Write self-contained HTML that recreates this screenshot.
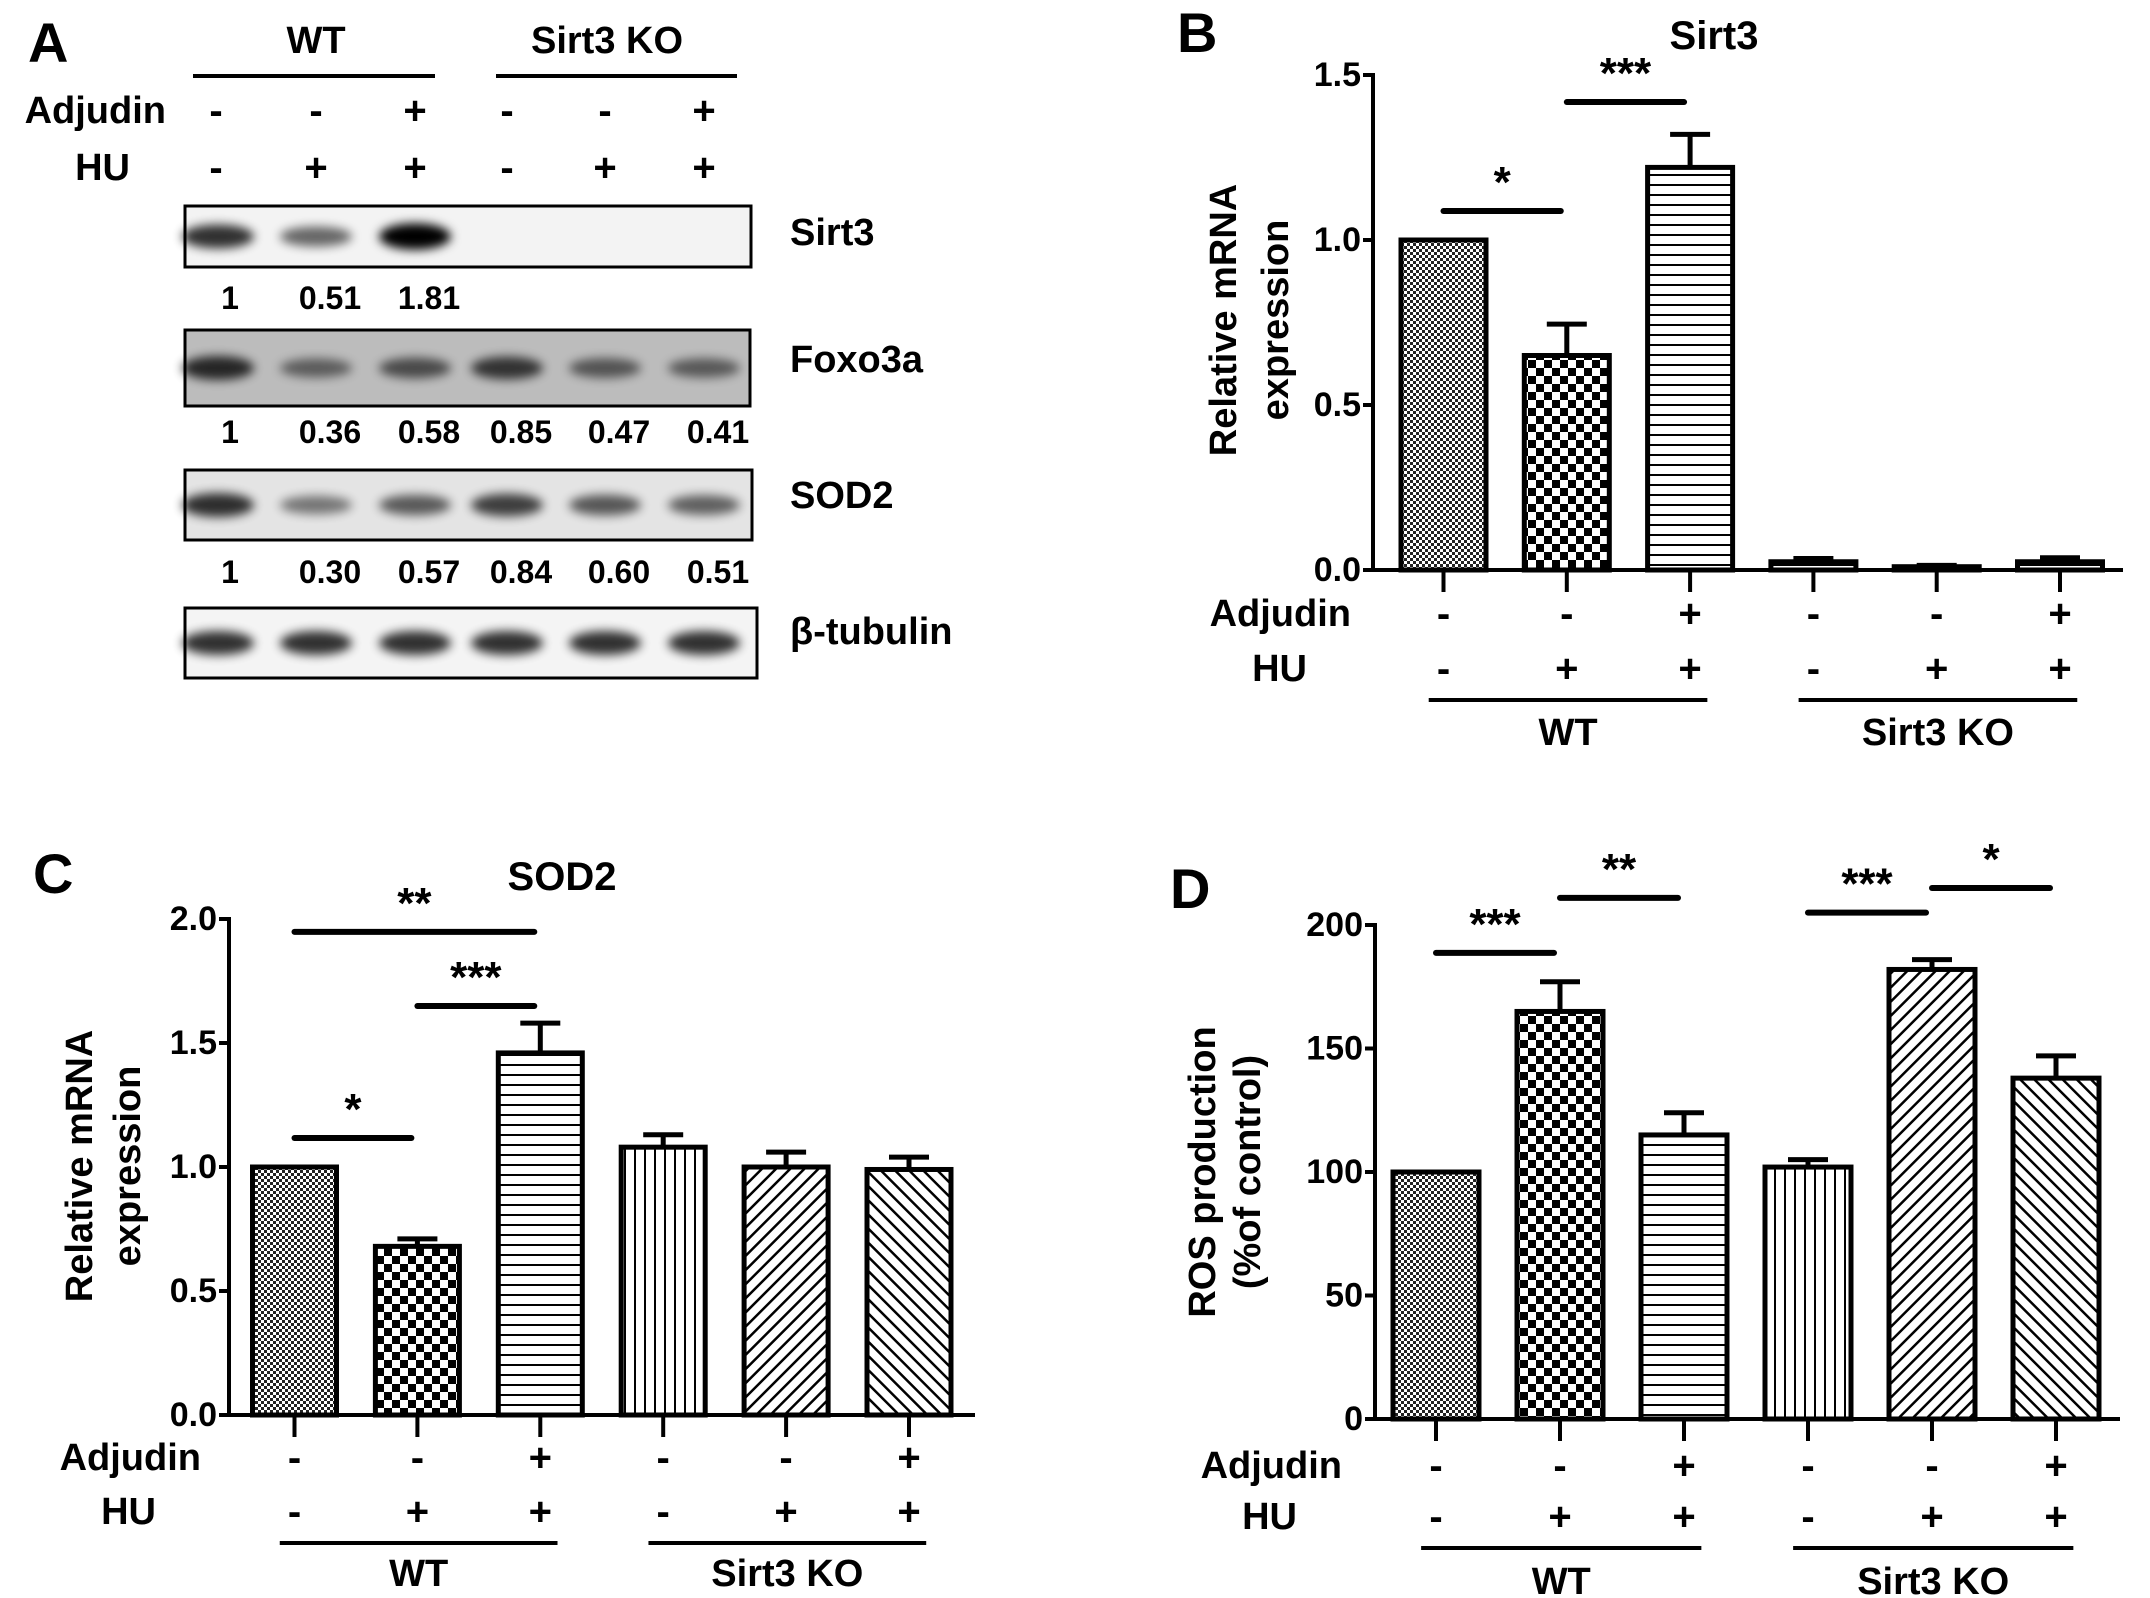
<!DOCTYPE html>
<html><head><meta charset="utf-8"><style>
html,body{margin:0;padding:0;background:#fff}
svg{display:block;font-family:"Liberation Sans",Arial,sans-serif;font-weight:bold}
</style></head><body>
<svg id="fig" width="2150" height="1598" viewBox="0 0 2150 1598" xmlns="http://www.w3.org/2000/svg">
<defs>
<filter id="blur" x="-20%" y="-50%" width="140%" height="200%"><feGaussianBlur stdDeviation="5"/></filter>
<pattern id="p0" width="6" height="6" patternUnits="userSpaceOnUse"><rect width="6" height="6" fill="#fff"/><rect width="3" height="3" fill="#222"/><rect x="3" y="3" width="3" height="3" fill="#222"/></pattern>
<pattern id="p1" width="16" height="16" patternUnits="userSpaceOnUse"><rect width="16" height="16" fill="#fff"/><rect width="8" height="8" fill="#000"/><rect x="8" y="8" width="8" height="8" fill="#000"/></pattern>
<pattern id="p2" width="10" height="10" patternUnits="userSpaceOnUse"><rect width="10" height="10" fill="#fff"/><rect y="4" width="10" height="2" fill="#000"/></pattern>
<pattern id="p3" width="10" height="10" patternUnits="userSpaceOnUse"><rect width="10" height="10" fill="#fff"/><rect x="4" width="2" height="10" fill="#000"/></pattern>
<pattern id="p4" width="10" height="10" patternUnits="userSpaceOnUse" patternTransform="rotate(45)"><rect width="10" height="10" fill="#fff"/><rect x="4" width="2.5" height="10" fill="#000"/></pattern>
<pattern id="p5" width="10" height="10" patternUnits="userSpaceOnUse" patternTransform="rotate(-45)"><rect width="10" height="10" fill="#fff"/><rect x="4" width="2.5" height="10" fill="#000"/></pattern>
</defs>

<!-- Panel A: western blot -->
<g id="panelA">
<text x="28" y="62" font-size="56">A</text>
<text x="316" y="41" font-size="38" text-anchor="middle" dominant-baseline="central">WT</text>
<line x1="193" y1="76" x2="435" y2="76" stroke="#000" stroke-width="4"/>
<text x="607" y="41" font-size="38" text-anchor="middle" dominant-baseline="central">Sirt3 KO</text>
<line x1="496" y1="76" x2="737" y2="76" stroke="#000" stroke-width="4"/>
<text x="166" y="111" font-size="38" text-anchor="end" dominant-baseline="central">Adjudin</text>
<text x="130" y="168" font-size="38" text-anchor="end" dominant-baseline="central">HU</text>
<g id="blotSigns"></g>
<g id="blots"></g>
</g>

<g id="panelB"></g>
<g id="panelC"></g>
<g id="panelD"></g>
</svg>
<script>
// ===== shared data =====
const treatAdjudin = ['-','-','+','-','-','+'];
const treatHU = ['-','+','+','-','+','+'];
const groupLabels = ['WT','Sirt3 KO'];

// Panel A data
const laneX = [216,316,415,507,605,704];
const sirt3Bands = [1,0.51,1.81,0,0,0];
const sirt3Nums = ['1','0.51','1.81','','',''];
const foxoBands = [1,0.36,0.58,0.85,0.47,0.41];
const foxoNums = ['1','0.36','0.58','0.85','0.47','0.41'];
const sodBands = [1,0.30,0.57,0.84,0.60,0.51];
const sodNums = ['1','0.30','0.57','0.84','0.60','0.51'];
const tubBands = [1,1,1,1,1,1];

// Panel B data
const bVals = [1.0,0.65,1.22,0.025,0.01,0.025];
const bErr = [0,0.095,0.10,0.01,0.004,0.012];
const bTicks = [0,0.5,1.0,1.5];
const bTickLabels = ['0.0','0.5','1.0','1.5'];
const bSig = [[0,1,1.088,'*'],[1,2,1.418,'***']];

// Panel C data
const cVals = [1.0,0.68,1.46,1.08,1.0,0.99];
const cErr = [0,0.03,0.12,0.05,0.06,0.05];
const cTicks = [0,0.5,1.0,1.5,2.0];
const cTickLabels = ['0.0','0.5','1.0','1.5','2.0'];
const cSig = [[0,2,1.948,'**'],[1,2,1.649,'***'],[0,1,1.117,'*']];

// Panel D data
const dVals = [100,165,115,102,182,138];
const dErr = [0,12,9,3,4,9];
const dTicks = [0,50,100,150,200];
const dTickLabels = ['0','50','100','150','200'];
const dSig = [[0,1,188.7,'***'],[1,2,211,'**'],[3,4,205,'***'],[4,5,215,'*']];

const NS='http://www.w3.org/2000/svg';
function mk(tag, attrs, parent, text){
  const e=document.createElementNS(NS,tag);
  for(const k in attrs) e.setAttribute(k,attrs[k]);
  if(text!==undefined) e.textContent=text;
  parent.appendChild(e); return e;
}

// ===== Panel A =====
(function(){
  const sg=document.getElementById('blotSigns');
  laneX.forEach((x,i)=>{
    const a=mk('text',{x:x,y:111,'font-size':40,'text-anchor':'middle','dominant-baseline':'central'},sg,treatAdjudin[i]);
    
    
    const h=mk('text',{x:x,y:168,'font-size':40,'text-anchor':'middle','dominant-baseline':'central'},sg,treatHU[i]);
    
    
  });
  const g=document.getElementById('blots');
  const blots=[
    {name:'Sirt3',y0:206,y1:267,bands:sirt3Bands,nums:sirt3Nums,numY:298,bg:'#f3f3f3',x1:751,lab:233},
    {name:'Foxo3a',y0:330,y1:406,bands:foxoBands,nums:foxoNums,numY:432,bg:'#bcbcbc',x1:750,lab:360},
    {name:'SOD2',y0:470,y1:540,bands:sodBands,nums:sodNums,numY:572,bg:'#e4e4e4',x1:752,lab:496},
    {name:'β-tubulin',y0:608,y1:678,bands:tubBands,nums:null,numY:0,bg:'#f4f4f4',x1:757,lab:632}
  ];
  blots.forEach(b=>{
    const bg=mk('g',{},g);
    
    
    mk('rect',{x:185,y:b.y0,width:b.x1-185,height:b.y1-b.y0,fill:b.bg},bg);
    const cy=(b.y0+b.y1)/2;
    b.bands.forEach((v,i)=>{
      if(v<=0) return;
      const op=Math.min(1,0.35+0.45*v);
      const band=mk('ellipse',{cx:laneX[i]+(i===0?2:0),cy:cy,rx:36,ry:8+4*Math.min(v,1.3),fill:'#000',opacity:op,filter:'url(#blur)'},bg);
      
      
    });
    mk('rect',{x:185,y:b.y0,width:b.x1-185,height:b.y1-b.y0,fill:'none',stroke:'#000','stroke-width':3},bg);
    const lt=mk('text',{x:790,y:b.lab,'font-size':38,'dominant-baseline':'central'},bg,b.name);
    
    
    if(b.nums){
      b.nums.forEach((n,i)=>{
        if(!n) return;
        const t=mk('text',{x:laneX[i]+(i===0?14:14),y:b.numY,'font-size':32,'text-anchor':'middle','dominant-baseline':'central'},bg,n);
        
        
      });
    }
  });
})();

// ===== Bar chart panels =====
function drawChart(root, cfg, vals, errs, ticks, tickLabels, sigs){
  const yOf=v=>cfg.base-(v/cfg.max)*(cfg.base-cfg.top);
  const cx=i=>cfg.c0+i*cfg.step;
  const lab=mk('text',{x:cfg.lx,y:cfg.ly,'font-size':56},root,cfg.letter);
  
  
  if(cfg.title){
    const t=mk('text',{x:cfg.tx,y:cfg.ty,'font-size':40,'text-anchor':'middle','dominant-baseline':'central'},root,cfg.title);
    
    
  }
  // y title
  const yt=mk('text',{transform:`translate(${cfg.yt1},${cfg.ytY}) rotate(-90)`,'font-size':38,'text-anchor':'middle','dominant-baseline':'central'},root,cfg.ytitle1);
  
  
  const yt2=mk('text',{transform:`translate(${cfg.yt2},${cfg.ytY}) rotate(-90)`,'font-size':38,'text-anchor':'middle','dominant-baseline':'central'},root,cfg.ytitle2);
  
  
  // bars
  vals.forEach((v,i)=>{
    const x=cx(i)-cfg.bw/2, y=yOf(v);
    const bar=mk('rect',{x:x,y:y,width:cfg.bw,height:cfg.base-y,fill:`url(#p${cfg.pats[i]})`,stroke:'#000','stroke-width':5},root);
    
    
    if(errs[i]>0){
      const ye=yOf(v+errs[i]);
      const eb=mk('path',{d:`M${cx(i)},${y} V${ye} M${cx(i)-20},${ye} H${cx(i)+20}`,stroke:'#000','stroke-width':5,fill:'none'},root);
      
      
    }
  });
  // axes
  const ya=mk('line',{x1:cfg.ax,y1:cfg.top-2,x2:cfg.ax,y2:cfg.base+2,stroke:'#000','stroke-width':4},root);
  
  
  const xa=mk('line',{x1:cfg.ax-2,y1:cfg.base,x2:cfg.xend,y2:cfg.base,stroke:'#000','stroke-width':4},root);
  
  
  ticks.forEach((t,i)=>{
    const y=yOf(t);
    mk('line',{x1:cfg.ax-10,y1:y,x2:cfg.ax,y2:y,stroke:'#000','stroke-width':4},root);
    const tl=mk('text',{x:cfg.ax-12,y:y,'font-size':34,'text-anchor':'end','dominant-baseline':'central'},root,tickLabels[i]);
    
    
  });
  vals.forEach((v,i)=>{
    mk('line',{x1:cx(i),y1:cfg.base,x2:cx(i),y2:cfg.base+22,stroke:'#000','stroke-width':4},root);
    const a=mk('text',{x:cx(i),y:cfg.adjY,'font-size':40,'text-anchor':'middle','dominant-baseline':'central'},root,treatAdjudin[i]);
    
    
    const h=mk('text',{x:cx(i),y:cfg.huY,'font-size':40,'text-anchor':'middle','dominant-baseline':'central'},root,treatHU[i]);
    
    
  });
  const al=mk('text',{x:cfg.adjR,y:cfg.adjY,'font-size':38,'text-anchor':'end','dominant-baseline':'central'},root,'Adjudin');
  
  
  const hl=mk('text',{x:cfg.huR,y:cfg.huY,'font-size':38,'text-anchor':'end','dominant-baseline':'central'},root,'HU');
  
  
  // group lines
  [[0,2],[3,5]].forEach((gr,k)=>{
    const x1=cx(gr[0])-cfg.step*0.12, x2=cx(gr[1])+cfg.step*0.14;
    mk('line',{x1:x1,y1:cfg.grpY,x2:x2,y2:cfg.grpY,stroke:'#000','stroke-width':4},root);
    const gt=mk('text',{x:(x1+x2)/2,y:cfg.grpTY,'font-size':38,'text-anchor':'middle','dominant-baseline':'central'},root,groupLabels[k]);
    
    
  });
  // significance
  sigs.forEach(s=>{
    const y=yOf(s[2]);
    const x1=cx(s[0]), x2=cx(s[1])-6;
    const l=mk('line',{x1:x1,y1:y,x2:x2,y2:y,stroke:'#000','stroke-width':6,'stroke-linecap':'round'},root);
    
    
    const st=mk('text',{x:(x1+x2)/2,y:y-14,'font-size':44,'text-anchor':'middle'},root,s[3]);
    
    
  });
}

drawChart(document.getElementById('panelB'),
 {letter:'B',lx:1177,ly:52,title:'Sirt3',tx:1714,ty:36,ytitle1:'Relative mRNA',ytitle2:'expression',yt1:1224,yt2:1276,ytY:320,
  base:570,top:75,max:1.5,ax:1373,xend:2123,c0:1443.5,step:123.3,bw:85,pats:[0,1,2,2,2,2],
  adjY:614,huY:669,adjR:1351,huR:1307,grpY:700,grpTY:733},
 bVals,bErr,bTicks,bTickLabels,bSig);

drawChart(document.getElementById('panelC'),
 {letter:'C',lx:33,ly:893,title:'SOD2',tx:562,ty:877,ytitle1:'Relative mRNA',ytitle2:'expression',yt1:80,yt2:128,ytY:1166,
  base:1415,top:919,max:2.0,ax:229,xend:975,c0:294.5,step:122.9,bw:84,pats:[0,1,2,3,4,5],
  adjY:1458,huY:1512,adjR:201,huR:156,grpY:1543,grpTY:1574},
 cVals,cErr,cTicks,cTickLabels,cSig);

drawChart(document.getElementById('panelD'),
 {letter:'D',lx:1170,ly:908,title:'',ytitle1:'ROS production',ytitle2:'(%of control)',yt1:1203,yt2:1248,ytY:1172,
  base:1419,top:925,max:200,ax:1375,xend:2120,c0:1436,step:124,bw:86,pats:[0,1,2,3,4,5],
  adjY:1466,huY:1517,adjR:1342,huR:1297,grpY:1548,grpTY:1582},
 dVals,dErr,dTicks,dTickLabels,dSig);
</script>
</body></html>
